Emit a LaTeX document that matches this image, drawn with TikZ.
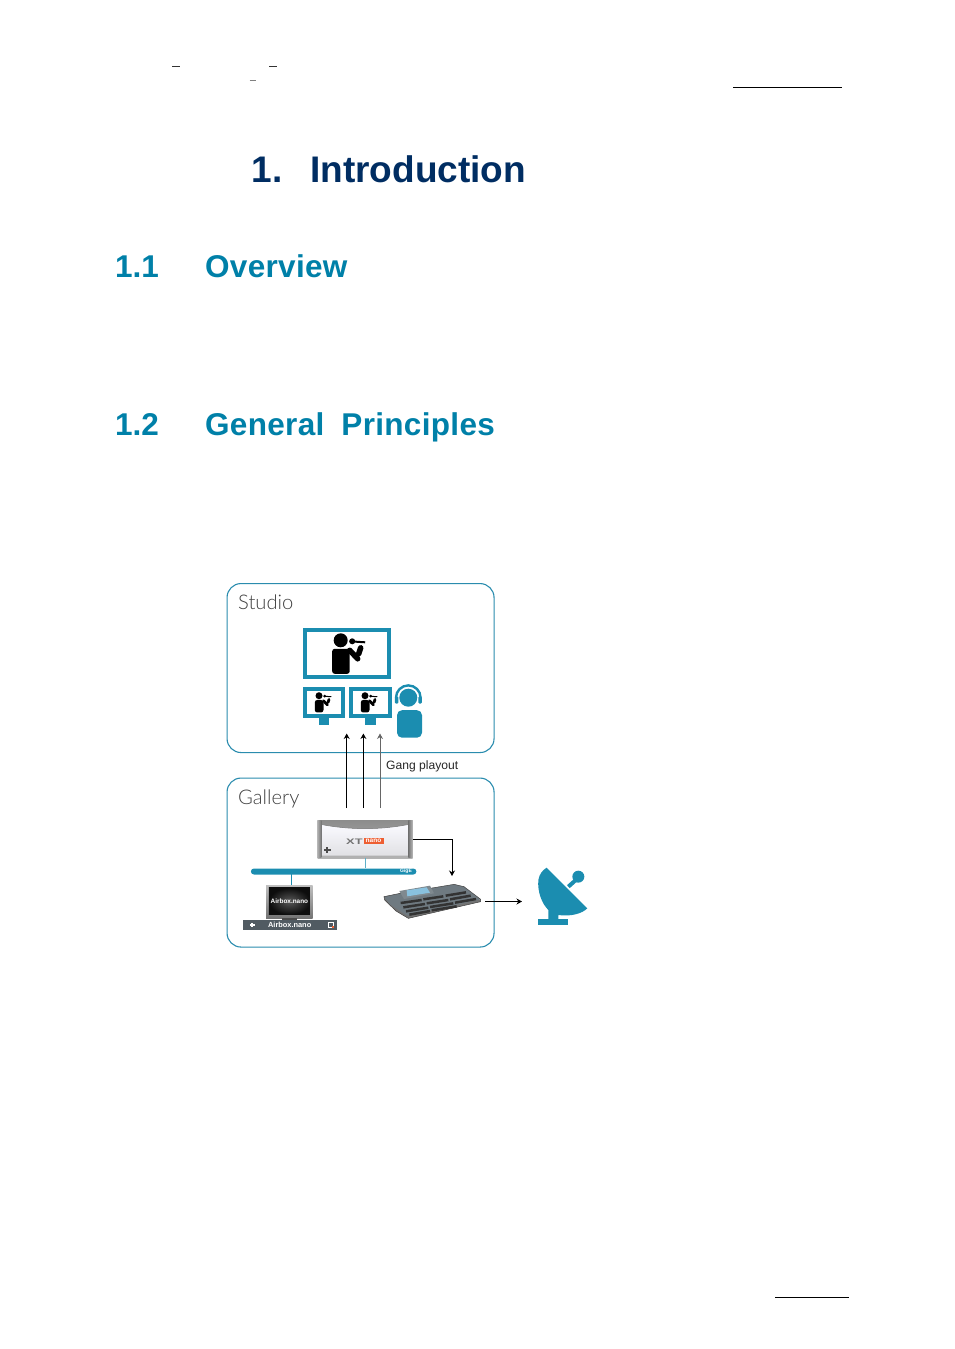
\documentclass[tikz,border=0pt]{standalone}
\usepackage{fontspec}
\usepackage{graphicx}
\setmainfont{Liberation Sans}
\newfontfamily\lightf{Lato Light}
\usetikzlibrary{arrows.meta,shadings,calc}
\definecolor{titleblue}{HTML}{002D62}
\definecolor{headteal}{HTML}{0080A8}
\definecolor{teal}{HTML}{1B8DB0}
\definecolor{lineteal}{HTML}{2A8CAE}
\definecolor{slate}{HTML}{5F6B73}
\definecolor{nanoorange}{HTML}{EE5F33}
\tikzset{
  rule/.style={line width=0.8pt,black},
  tt/.style={inner sep=0pt,anchor=base west,font=\bfseries\fontsize{37}{37}\selectfont,text=titleblue},
  hh/.style={inner sep=0pt,anchor=base west,font=\bfseries\fontsize{31.5}{32}\selectfont,text=headteal},
  zone/.style={draw=lineteal,line width=1.1pt,rounded corners=14pt,anchor=north west,inner sep=0pt},
  zonelabel/.style={inner sep=0pt,anchor=base west,text=black!75,font=\lightf\fontsize{20.2}{21}\selectfont},
  screen/.style={draw=teal,line width=4pt,fill=white,anchor=north west,inner sep=0pt},
  tealfill/.style={fill=teal,draw=none,inner sep=0pt},
  feed/.style={-{Stealth[length=5.5pt,width=6pt]},line width=1pt,black},
  link/.style={line width=0.8pt,teal!70},
}
\newcommand{\presenter}[3]{%
 \begin{scope}[shift={(#1,#2)},scale=#3]
  \fill[black] (0,0) circle (7);
  \fill[black,rounded corners=2.5pt] (-8.5,8.5) rectangle (9,33.5);
  \draw[black,line width=#3*5.5pt,line cap=round] (9,10) -- (17,18.5);
  \draw[black,line width=#3*2pt] (9,1) -- (24.5,2);
  \fill[black] (11.5,1) circle (3);
  \draw[black,line width=#3*5.5pt,line cap=round] (20,7.5) -- (18,13.5);
 \end{scope}}
\begin{document}
\begin{tikzpicture}[x=1pt,y=-1pt]
\useasboundingbox (0,0) rectangle (954,1349);
% page furniture
\coordinate (hr1) at (733,87.5); \coordinate (hr2) at (842,87.5);
\coordinate (fr1) at (775,1297.5); \coordinate (fr2) at (849,1297.5);
\draw[rule] (hr1) -- (hr2);
\draw[rule] (fr1) -- (fr2);
\coordinate (d1a) at (172,66.5); \coordinate (d1b) at (180,66.5);
\coordinate (d2a) at (269,66.5); \coordinate (d2b) at (277,66.5);
\coordinate (d3a) at (249.5,80.5); \coordinate (d3b) at (256,80.5);
\draw[rule,black!80] (d1a) -- (d1b);
\draw[rule,black!80] (d2a) -- (d2b);
\draw[rule,black!50] (d3a) -- (d3b);
% headings
\node[tt] (t1) at (251,182) {\addfontfeature{LetterSpace=2}1.};
\node[tt] (t2) at (310,182) {Introduction};
\node[hh] (h1n) at (115,277) {1.1};
\node[hh] (h1) at (205,277) {\addfontfeature{LetterSpace=1}Overview};
\node[hh] (h2n) at (115,435) {1.2};
\node[hh] (h2) at (205,435) {\addfontfeature{LetterSpace=1}General\hspace{8pt} Principles};
% zones
\node[zone,minimum width=267pt,minimum height=169pt] (studio) at (226.5,583) {};
\node[zone,minimum width=267pt,minimum height=169pt] (gallery) at (226.5,777.5) {};
\node[zonelabel] (studiol) at (238,609) {Studio};
\node[zonelabel] (galleryl) at (238,804) {Gallery};
% studio screens
\node[screen,minimum width=84.6pt,minimum height=47.6pt] (big) at (302.7,627.7) {};
\node[screen,minimum width=38.5pt,minimum height=27.5pt] (s1) at (302.7,686.7) {};
\node[screen,minimum width=38.5pt,minimum height=27.5pt] (s2) at (349,686.7) {};
\node[tealfill,minimum width=10.5pt,minimum height=7.4pt,anchor=north] (s1f) at (324.1,717) {};
\node[tealfill,minimum width=10.5pt,minimum height=7.4pt,anchor=north] (s2f) at (370.3,717) {};
\presenter{340.7}{640.3}{1}
\presenter{319}{695.7}{0.5}
\presenter{365}{695.7}{0.5}
% operator
\node[tealfill,circle,minimum size=18pt] (ophead) at (408.3,697.7) {};
\draw[teal,line width=2.4pt] (396,697.7) arc[start angle=180,end angle=360,radius=12.3];
\fill[teal,rounded corners=1pt] (394.8,696.5) rectangle (398.3,703.5);
\fill[teal,rounded corners=1pt] (418.3,696.5) rectangle (421.8,703.5);
\node[tealfill,rounded corners=5pt,minimum width=25pt,minimum height=27.5pt,anchor=north] (opbody) at (409.5,710) {};
% gang arrows
\coordinate (g1s) at (346.7,808); \coordinate (g1e) at (346.7,733.5);
\coordinate (g2s) at (363.4,808); \coordinate (g2e) at (363.4,733.5);
\coordinate (g3s) at (380,808); \coordinate (g3e) at (380,733.5);
\draw[feed] (g1s) -- (g1e);
\draw[feed] (g2s) -- (g2e);
\draw[feed,black!60] (g3s) -- (g3e);
\node[inner sep=0pt,anchor=base west,font=\fontsize{12.1}{13}\selectfont,text=black!85] (gang) at (386,769) {Gang playout};
% XT nano
\node[anchor=north west,minimum width=95pt,minimum height=37.5pt,inner sep=0pt,top color=black!45,bottom color=black!30] (xt) at (317.3,820.3) {};
\shade[top color=blue!2!white,bottom color=blue!12!black!12] (321.3,824.5) .. controls (350,830) and (380,830) .. (408.3,824.5) -- (408.3,855.5) -- (321.3,855.5) -- cycle;
\draw[black!55,line width=.5pt] (321.3,824.5) .. controls (350,830) and (380,830) .. (408.3,824.5);
\shade[left color=black!30,right color=black!55] (317.3,820.3) rectangle (321.3,857.8);
\shade[left color=black!55,right color=black!30] (408.3,820.3) rectangle (412.3,857.8);
\node[inner sep=0pt,anchor=base east,font=\bfseries\fontsize{8}{8}\selectfont,text=black!55] (xtl) at (362.8,844) {\scalebox{1.6}[1]{XT}};
\node[inner sep=0pt,minimum width=20pt,minimum height=5.8pt,fill=nanoorange,anchor=west,text=white,font=\bfseries\fontsize{6.5}{5}\selectfont] (xtn) at (363.3,841.2) {nano};
\fill[black!70] (323.5,849.2) rectangle (330.5,850.8);
\fill[black!70] (326,846.5) rectangle (328,853);
% network bus
\node[tealfill,rounded corners=3pt,minimum width=165.5pt,minimum height=6pt,anchor=north west] (bus) at (250.7,868.3) {};
\node[inner sep=0pt,font=\bfseries\fontsize{5}{5}\selectfont,text=white] (gige) at (406,871.3) {GigE};
\coordinate (xtb) at (365.3,857.8); \coordinate (busxt) at (365.3,868.3);
\draw[link] (xtb) -- (busxt);
\coordinate (busm) at (291.3,874.3); \coordinate (monb) at (291.3,885);
\draw[line width=.9pt,teal] (busm) -- (monb);
% Airbox
\node[anchor=north west,minimum width=46.3pt,minimum height=33.3pt,inner sep=0pt,top color=black!25,bottom color=black!55] (mon) at (266,885) {};
\node[anchor=north west,minimum width=41pt,minimum height=26.6pt,inner sep=0pt,inner color=black!65,outer color=black!95] (scr) at (268.7,887.7) {};
\node[inner sep=0pt,text=white,font=\bfseries\fontsize{6.4}{5}\selectfont] (scrl) at (scr.center) {Airbox.nano};
\fill[black!70] (281.5,918.3) rectangle (297,920);
\node[anchor=north west,minimum width=94.4pt,minimum height=9.7pt,inner sep=0pt,fill=slate!85!black,text=white,font=\bfseries\fontsize{7.4}{5}\selectfont] (bar) at (242.3,920) {Airbox.nano};
\fill[white] (250,923.8) rectangle (254.5,925.5); \fill[white] (251.4,922.6) rectangle (253.1,926.8);
\draw[white,line width=.8pt] (328.5,922.5) rectangle (333,927);
\fill[nanoorange] (332.3,926.3) rectangle (334,928);
% console
\begin{scope}[shift={(380,865)},scale=1/3]
 \fill[black!55] (12,95) -- (14,105) -- (48,138) -- (85,160) -- (302,110) -- (302,103) -- cycle;
 \fill[slate!90] (12,95) -- (60,85) -- (222,58) -- (252,65) -- (302,103) -- (85,152) -- (78,150) -- (30,118) -- cycle;
 \draw[black!75,line width=.5pt] (12,95) -- (60,85) -- (222,58) -- (252,65) -- (302,103) -- (302,110) -- (85,160) -- (48,138) -- (14,105) -- cycle;
 \fill[slate!80] (58,78) -- (150,62) -- (162,85) -- (72,102) -- cycle;
 \fill[cyan!40!teal!55] (80,76) -- (140,67) -- (150,83) -- (82,94) -- cycle;
 \foreach \a/\b/\c/\d in {62/114/125/105, 130/103/190/94, 197/92/258/82, 70/127/135/117, 140/115/205/105, 210/103/272/92, 78/139/145/128, 150/126/220/115, 225/113/288/102, 88/149/150/138, 155/136/230/124}{
   \draw[black!80,line width=2.5pt] (\a,\b) -- (\c,\d);}
\end{scope}
\coordinate (condtop) at (452,876);
\draw[feed,line width=.8pt] (xt.east) -| (condtop);
\coordinate (conr) at (485,901.5); \coordinate (dishl) at (522,901.5);
\draw[feed] (conr) -- (dishl);
% dish
\begin{scope}[shift={(480,850)},scale=1/3]
 \fill[teal] (200,53) .. controls (188,60) and (178,72) .. (175,90) .. controls (172,125) and (185,160) .. (205,180) -- (205,208) -- (235,208) -- (235,195) .. controls (270,200) and (305,192) .. (322,175) -- cycle;
 \fill[teal] (175,208) rectangle (265,226);
 \draw[teal,line width=4pt] (265,110) -- (293,85);
 \fill[teal] (295,80) circle (18);
\end{scope}
\end{tikzpicture}
\end{document}
